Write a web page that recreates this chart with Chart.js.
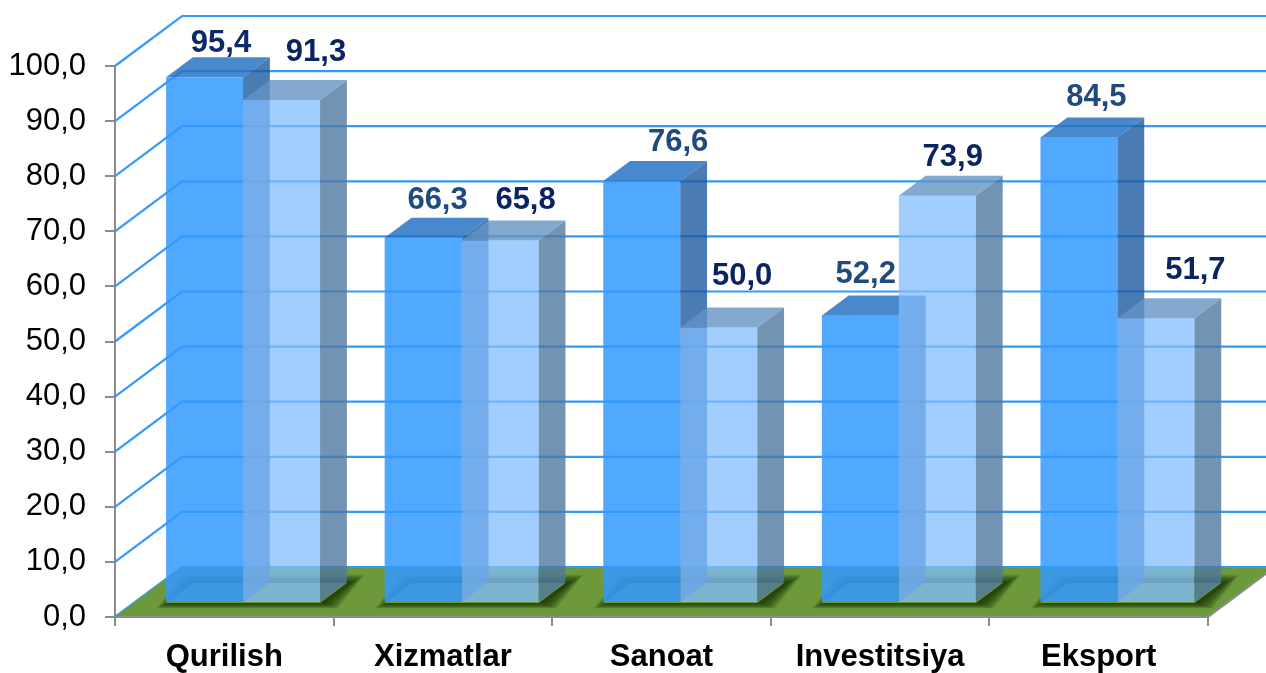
<!DOCTYPE html>
<html>
<head>
<meta charset="utf-8">
<script src="https://cdn.jsdelivr.net/npm/chart.js@4.4.1/dist/chart.umd.min.js"></script>
<style>
  body { margin: 0; background: #fff; }
  #wrap { width: 1266px; height: 673px; position: relative; }
</style>
</head>
<body>
<div id="wrap"><canvas id="chart"></canvas></div>
<script>
// data
var categories = ['Qurilish', 'Xizmatlar', 'Sanoat', 'Investitsiya', 'Eksport'];
var seriesDark = [95.4, 66.3, 76.6, 52.2, 84.5];
var seriesLight = [91.3, 65.8, 50.0, 73.9, 51.7];
var yMin = 0, yMax = 100, yStep = 10;

// label nudges (px) and colours, styling only
var nudgeDark = [[3, -5], [1, -9], [23, -10], [-8, -12], [4, -11]];
var nudgeLight = [[21, -19], [12, -11], [10, -23], [2, -10], [26, -19]];
var labelColDark = ['#0d2a66', '#1f4a7e', '#1f4a7e', '#1f4a7e', '#1f4a7e'];
var labelColLight = '#0a2462';

// 3d look
var DX = 67, DY = -50;     // wall depth
var F0 = 0.28, FD = 0.4;   // bar front position and bar depth as part of wall depth
var FONT = '"Liberation Sans", Arial, sans-serif';
var FLOOR = '#6c9a3a';

var darkCols = { front: 'rgba(51,153,255,0.85)', side: 'rgba(30,90,160,0.8)', top: 'rgba(40,115,195,0.85)' };
var lightCols = { front: 'rgba(130,190,255,0.75)', side: 'rgba(80,120,160,0.8)', top: 'rgba(100,148,195,0.8)' };

function fmt(v) {
    return v.toFixed(1).replace('.', ',');
}

function poly(ctx, pts) {
    ctx.beginPath();
    ctx.moveTo(pts[0][0], pts[0][1]);
    for (var i = 1; i < pts.length; i++) ctx.lineTo(pts[i][0], pts[i][1]);
    ctx.closePath();
}

function drawBox(ctx, l, r, top, bottom, cols) {
    var dx = FD * DX, dy = FD * DY;
    ctx.fillStyle = cols.front;
    ctx.fillRect(l, top, r - l, bottom - top);
    poly(ctx, [[r, top], [r + dx, top + dy], [r + dx, bottom + dy], [r, bottom]]);
    ctx.fillStyle = cols.side;
    ctx.fill();
    poly(ctx, [[l, top], [l + dx, top + dy], [r + dx, top + dy], [r, top]]);
    ctx.fillStyle = cols.top;
    ctx.fill();
}

var box3d = {
    id: 'box3d',
    beforeDatasetsDraw: function(chart) {
        var ctx = chart.ctx, a = chart.chartArea;
        var ys = chart.scales.y;
        var fy = ys.getPixelForValue(0);
        var m0 = chart.getDatasetMeta(0), m1 = chart.getDatasetMeta(1);

        ctx.save();
        // side and back wall grid lines
        ctx.strokeStyle = '#3399fa';
        ctx.lineWidth = 2.2;
        ys.ticks.forEach(function(t) {
            var py = ys.getPixelForValue(t.value);
            ctx.beginPath();
            ctx.moveTo(a.left, py);
            ctx.lineTo(a.left + DX, py + DY);
            ctx.lineTo(chart.width, py + DY);
            ctx.stroke();
        });

        // floor
        var floor = [[a.left, fy], [a.right, fy], [a.right + DX, fy + DY], [a.left + DX, fy + DY]];
        poly(ctx, floor);
        ctx.fillStyle = FLOOR;
        ctx.fill();

        // soft shadows round the bar feet, built from stacked see-through layers
        ctx.save();
        poly(ctx, floor);
        ctx.clip();
        ctx.fillStyle = 'rgba(20,40,5,0.09)';
        for (var i = 0; i < categories.length; i++) {
            var b0 = m0.data[i], b1 = m1.data[i];
            var l = b0.x - b0.width / 2 + F0 * DX, r = b1.x + b1.width / 2 + F0 * DX;
            var yb = fy + F0 * DY;
            for (var k = 14; k >= 0; k -= 1) {
                var sx = 4;
                poly(ctx, [[l - k + sx, yb + k * 0.4], [r + k + sx, yb + k * 0.4],
                    [r + FD * DX + k + sx, yb + FD * DY - k * 0.6], [l + FD * DX - k + sx, yb + FD * DY - k * 0.6]]);
                ctx.fill();
            }
        }
        ctx.restore();

        // floor edges
        ctx.strokeStyle = '#8c8c8c';
        ctx.lineWidth = 2;
        ctx.beginPath();
        ctx.moveTo(a.left, fy);
        ctx.lineTo(a.right, fy);
        ctx.lineTo(a.right + DX, fy + DY);
        ctx.stroke();

        // bars (green under the feet so the shadow does not tint them)
        ctx.fillStyle = FLOOR;
        for (var j = 0; j < categories.length; j++) {
            var c0 = m0.data[j], c1 = m1.data[j];
            var fl = c0.x - c0.width / 2 + F0 * DX, fr = c1.x + c1.width / 2 + F0 * DX;
            var fb = fy + F0 * DY;
            poly(ctx, [[fl, fb], [fr, fb], [fr + FD * DX, fb + FD * DY], [fl + FD * DX, fb + FD * DY]]);
            ctx.fill();
        }
        [[m0, darkCols], [m1, lightCols]].forEach(function(p) {
            p[0].data.forEach(function(bar) {
                var l = bar.x - bar.width / 2 + F0 * DX;
                var r = bar.x + bar.width / 2 + F0 * DX;
                drawBox(ctx, l, r, bar.y + F0 * DY, bar.base + F0 * DY, p[1]);
            });
        });

        // value labels
        ctx.font = 'bold 31px ' + FONT;
        ctx.textAlign = 'center';
        ctx.textBaseline = 'alphabetic';
        [[m0, seriesDark, nudgeDark], [m1, seriesLight, nudgeLight]].forEach(function(p, k) {
            p[0].data.forEach(function(bar, i) {
                var cx = bar.x + F0 * DX + FD * DX / 2 + p[2][i][0];
                var ty = bar.y + F0 * DY + FD * DY + p[2][i][1];
                ctx.fillStyle = k === 0 ? labelColDark[i] : labelColLight;
                ctx.fillText(fmt(p[1][i]), cx, ty);
            });
        });
        ctx.restore();
        return false;
    }
};

var chart = new Chart(document.getElementById('chart'), {
    type: 'bar',
    data: {
        labels: categories,
        datasets: [
            { data: seriesDark, backgroundColor: darkCols.front },
            { data: seriesLight, backgroundColor: lightCols.front }
        ]
    },
    options: {
        responsive: true,
        maintainAspectRatio: false,
        animation: false,
        layout: { padding: { top: 66, right: 58, left: 0, bottom: 0 } },
        plugins: { legend: { display: false }, tooltip: { enabled: false } },
        datasets: { bar: { categoryPercentage: 0.7045, barPercentage: 1 } },
        scales: {
            x: {
                grid: { drawOnChartArea: false, tickLength: 9, color: '#8c8c8c', lineWidth: 2 },
                border: { color: '#8c8c8c', width: 2 },
                ticks: { color: '#000', font: { family: FONT, size: 31, weight: 'bold' }, padding: 13, maxRotation: 0 },
                afterFit: function(s) { s.height = 56; }
            },
            y: {
                min: yMin,
                max: yMax,
                grid: { drawOnChartArea: false, tickLength: 10, color: '#8c8c8c', lineWidth: 2 },
                border: { color: '#8c8c8c', width: 2 },
                ticks: {
                    stepSize: yStep,
                    color: '#000',
                    padding: 19,
                    font: { family: FONT, size: 31 },
                    callback: function(v) { return fmt(v); }
                },
                afterFit: function(s) { s.width = 115; }
            }
        }
    },
    plugins: [box3d]
});
</script>
</body>
</html>
